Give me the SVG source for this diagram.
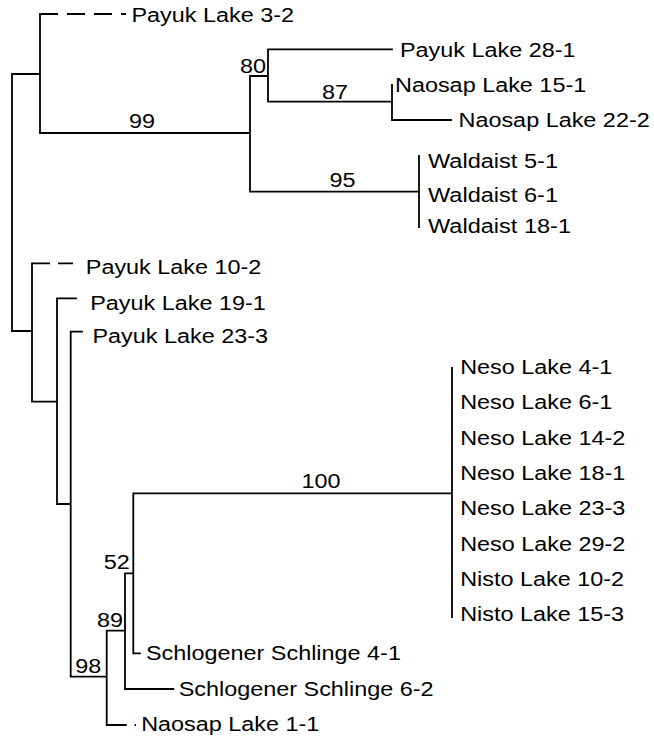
<svg xmlns="http://www.w3.org/2000/svg" width="654" height="738" viewBox="0 0 654 738">
<style>
  .br { fill: none; stroke: #000; stroke-width: 1.8; stroke-linecap: square; }
  .dash { fill: none; stroke: #000; stroke-width: 1.8; stroke-linecap: butt; }
  text { font-family: "Liberation Sans", Arial, sans-serif; font-size: 20px; fill: #000; }
  .sup { text-anchor: middle; }
</style>
<rect width="654" height="738" fill="#fff"/>
<g id="connectors">
  <path class="br" d="M12,74 V331 M12,74 H40 M40,14 V133 M40,133 H250 M250,76 V191.7 M250,76 H268 M268,49.3 V101.7 M268,49.3 H392 M268,101.7 H392 M392,85 V120 M392,120 H451 M250,191.7 H419 M419,156 V227"/>
  <path class="br" d="M12,331 H32 M32,263.3 V401.7 M32,401.7 H57 M57,298.3 V504 M57,298.3 H76 M57,504 H70.7 M70.7,331.7 V676.7 M70.7,331.7 H82 M70.7,676.7 H106.7 M106.7,630.7 V725 M106.7,630.7 H125 M125,573.3 V689 M125,689 H173.3 M125,573.3 H133.3 M133.3,493.3 V653.3 M133.3,653.3 H140 M133.3,493.3 H452 M452,368 V617"/>
  <path class="dash" d="M40,14 H126" stroke-dasharray="18 9"/>
  <path class="dash" d="M32,263.3 H73" stroke-dasharray="18 8"/>
  <path class="dash" d="M106.7,725 H136" stroke-dasharray="20 8"/>
</g>
<g id="leaf-payuk-3-2"><text x="131.5" y="21.5" textLength="162.6" lengthAdjust="spacingAndGlyphs">Payuk Lake 3-2</text></g>
<g id="leaf-payuk-28-1"><text x="400" y="56.5" textLength="175.6" lengthAdjust="spacingAndGlyphs">Payuk Lake 28-1</text></g>
<g id="leaf-naosap-15-1"><text x="395" y="91.7" textLength="191.2" lengthAdjust="spacingAndGlyphs">Naosap Lake 15-1</text></g>
<g id="leaf-naosap-22-2"><text x="458.5" y="127" textLength="191.2" lengthAdjust="spacingAndGlyphs">Naosap Lake 22-2</text></g>
<g id="leaf-waldaist-5-1"><text x="428" y="168.3" textLength="130" lengthAdjust="spacingAndGlyphs">Waldaist 5-1</text></g>
<g id="leaf-waldaist-6-1"><text x="428" y="201.7" textLength="130" lengthAdjust="spacingAndGlyphs">Waldaist 6-1</text></g>
<g id="leaf-waldaist-18-1"><text x="428" y="232.7" textLength="143" lengthAdjust="spacingAndGlyphs">Waldaist 18-1</text></g>
<g id="leaf-payuk-10-2"><text x="85.8" y="274" textLength="175.6" lengthAdjust="spacingAndGlyphs">Payuk Lake 10-2</text></g>
<g id="leaf-payuk-19-1"><text x="90.2" y="309.5" textLength="175.6" lengthAdjust="spacingAndGlyphs">Payuk Lake 19-1</text></g>
<g id="leaf-payuk-23-3"><text x="92.5" y="343" textLength="175.6" lengthAdjust="spacingAndGlyphs">Payuk Lake 23-3</text></g>
<g id="leaf-neso-4-1"><text x="460.2" y="374" textLength="152.2" lengthAdjust="spacingAndGlyphs">Neso Lake 4-1</text></g>
<g id="leaf-neso-6-1"><text x="460.2" y="409.3" textLength="152.2" lengthAdjust="spacingAndGlyphs">Neso Lake 6-1</text></g>
<g id="leaf-neso-14-2"><text x="460.2" y="444.6" textLength="165.2" lengthAdjust="spacingAndGlyphs">Neso Lake 14-2</text></g>
<g id="leaf-neso-18-1"><text x="460.2" y="479.9" textLength="165.2" lengthAdjust="spacingAndGlyphs">Neso Lake 18-1</text></g>
<g id="leaf-neso-23-3"><text x="460.2" y="515.2" textLength="165.2" lengthAdjust="spacingAndGlyphs">Neso Lake 23-3</text></g>
<g id="leaf-neso-29-2"><text x="460.2" y="550.5" textLength="165.2" lengthAdjust="spacingAndGlyphs">Neso Lake 29-2</text></g>
<g id="leaf-nisto-10-2"><text x="460.2" y="585.8" textLength="163.9" lengthAdjust="spacingAndGlyphs">Nisto Lake 10-2</text></g>
<g id="leaf-nisto-15-3"><text x="460.2" y="621.1" textLength="163.9" lengthAdjust="spacingAndGlyphs">Nisto Lake 15-3</text></g>
<g id="leaf-schlogener-4-1"><text x="146" y="660" textLength="254.9" lengthAdjust="spacingAndGlyphs">Schlogener Schlinge 4-1</text></g>
<g id="leaf-schlogener-6-2"><text x="178.7" y="695.5" textLength="254.9" lengthAdjust="spacingAndGlyphs">Schlogener Schlinge 6-2</text></g>
<g id="leaf-naosap-1-1"><text x="141.2" y="730.5" textLength="178.2" lengthAdjust="spacingAndGlyphs">Naosap Lake 1-1</text></g>
<g id="node-99"><text class="sup" x="142" y="128" textLength="26" lengthAdjust="spacingAndGlyphs">99</text></g>
<g id="node-80"><text class="sup" x="253" y="73" textLength="26" lengthAdjust="spacingAndGlyphs">80</text></g>
<g id="node-87"><text class="sup" x="335" y="99" textLength="26" lengthAdjust="spacingAndGlyphs">87</text></g>
<g id="node-95"><text class="sup" x="342.5" y="187" textLength="26" lengthAdjust="spacingAndGlyphs">95</text></g>
<g id="node-100"><text class="sup" x="321" y="488" textLength="39" lengthAdjust="spacingAndGlyphs">100</text></g>
<g id="node-52"><text class="sup" x="116.7" y="569" textLength="26" lengthAdjust="spacingAndGlyphs">52</text></g>
<g id="node-89"><text class="sup" x="110" y="626.5" textLength="26" lengthAdjust="spacingAndGlyphs">89</text></g>
<g id="node-98"><text class="sup" x="88.3" y="673" textLength="26" lengthAdjust="spacingAndGlyphs">98</text></g>
</svg>
